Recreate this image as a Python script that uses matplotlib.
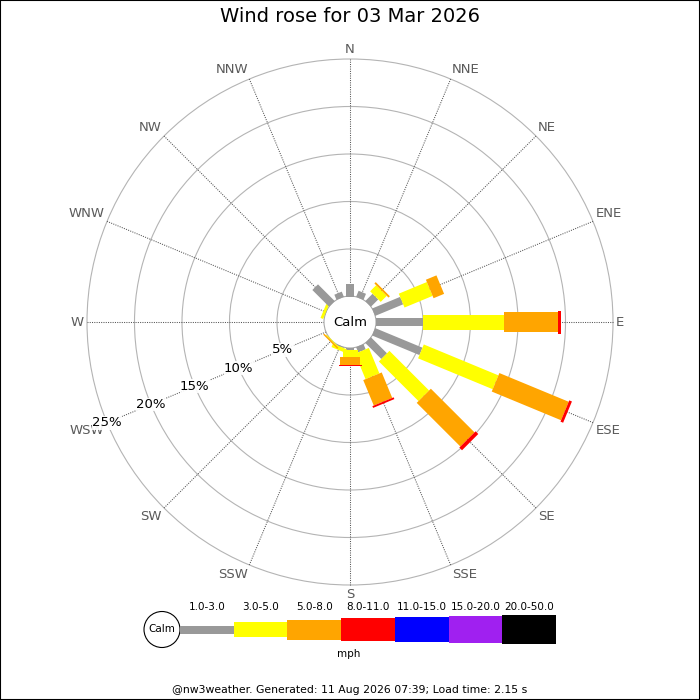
import numpy as np
import matplotlib
matplotlib.use("Agg")
import matplotlib.pyplot as plt
from matplotlib.patches import Circle, Polygon, Rectangle


# ── data ──────────────────────────────────────────────────────────────────────
DIRECTIONS = ["N", "NNE", "NE", "ENE", "E", "ESE", "SE", "SSE",
              "S", "SSW", "SW", "WSW", "W", "WNW", "NW", "NNW"]
SPEED_BINS = ["1.0-3.0", "3.0-5.0", "5.0-8.0", "8.0-11.0",
              "11.0-15.0", "15.0-20.0", "20.0-50.0"]

# percent of time per direction, one list per speed bin (N .. NNW)
pct_1_3 = [1.3, 0.7, 1.1, 3.2, 5.0, 5.4, 2.4, 0.6,
           0.3, 0.1, 0.0, 0.0, 0.0, 0.05, 2.5, 0.6]
pct_3_5 = [0.0, 0.0, 0.9, 3.2, 8.5, 8.5, 5.9, 2.9,
           0.7, 0.4, 0.1, 0.0, 0.0, 0.3, 0.0, 0.0]
pct_5_8 = [0.0, 0.0, 0.2, 1.2, 5.7, 7.9, 6.5, 2.9,
           0.8, 0.0, 0.15, 0.0, 0.0, 0.0, 0.0, 0.0]
pct_8_11 = [0.0, 0.0, 0.0, 0.0, 0.3, 0.3, 0.4, 0.2,
            0.1, 0.0, 0.0, 0.0, 0.0, 0.0, 0.0, 0.0]
pct_11_15 = [0.0] * 16
pct_15_20 = [0.0] * 16
pct_20_50 = [0.0] * 16

RING_PCTS = [5, 10, 15, 20, 25]

TITLE = "Wind rose for 03 Mar 2026"
FOOTER = "@nw3weather. Generated: 11 Aug 2026 07:39; Load time: 2.15 s"

# ── style ─────────────────────────────────────────────────────────────────────
BIN_COLORS = ["#999999", "#ffff00", "#ffa500", "#ff0000",
              "#0000ff", "#a020f0", "#000000"]
BAR_WIDTHS = [8, 15, 20, 23, 25, 27, 29]     # px
CALM_R = 26        # px
R0 = 25.5          # px radius of 0 %
PX_PER_PCT = 9.5


def rad(p):
    return R0 + PX_PER_PCT * p


def xy(r, deg):
    a = np.deg2rad(deg)
    return r * np.sin(a), r * np.cos(a)


def bar_poly(r1, r2, deg, width):
    a = np.deg2rad(deg)
    u = np.array([np.sin(a), np.cos(a)])
    t = np.array([np.cos(a), -np.sin(a)]) * width / 2
    return [u * r1 - t, u * r2 - t, u * r2 + t, u * r1 + t]


fig = plt.figure(figsize=(7, 7), dpi=100)
ax = fig.add_axes([0, 0, 1, 1])
ax.set_xlim(-350, 350)
ax.set_ylim(-378, 322)
ax.axis("off")

# ── grid ──────────────────────────────────────────────────────────────────────
for p in RING_PCTS:
    ax.add_patch(Circle((0, 0), rad(p), fill=False, ec="#b4b4b4", lw=0.8,
                        zorder=1))

r_out = rad(RING_PCTS[-1])
for i, name in enumerate(DIRECTIONS):
    deg = i * 22.5
    x1, y1 = xy(CALM_R, deg)
    x2, y2 = xy(r_out, deg)
    ax.plot([x1, x2], [y1, y2], color="#555555", ls=(0, (1, 1.2)), lw=0.75,
            zorder=1)
    s, c = np.sin(np.deg2rad(deg)), np.cos(np.deg2rad(deg))
    ha = "left" if s > 0.01 else ("right" if s < -0.01 else "center")
    va = "bottom" if c > 0.01 else ("top" if c < -0.01 else "center")
    lx, ly = xy(r_out + 3, deg)
    ax.text(lx, ly, name, ha=ha, va=va, fontsize=9.5, color="#5a5a5a",
            zorder=2)

# ── bars ──────────────────────────────────────────────────────────────────────
all_bins = [pct_1_3, pct_3_5, pct_5_8, pct_8_11, pct_11_15, pct_15_20, pct_20_50]
for i in range(len(DIRECTIONS)):
    deg = i * 22.5
    cum = 0.0
    for b, vals in enumerate(all_bins):
        v = vals[i]
        if v <= 0:
            continue
        poly = bar_poly(rad(cum), rad(cum + v), deg, BAR_WIDTHS[b])
        ax.add_patch(Polygon(poly, closed=True, fc=BIN_COLORS[b], ec="none",
                             zorder=4))
        cum += v

# calm circle
ax.add_patch(Circle((0, 0), CALM_R, fc="white", ec="#aaaaaa", lw=0.8,
                    zorder=3))
ax.text(0, 0, "Calm", ha="center", va="center", fontsize=9.5, zorder=5)

# percent labels along WSW
for p in RING_PCTS:
    lx, ly = xy(rad(p), 247.5)
    ax.text(lx, ly, f"{p}%", ha="center", va="center", fontsize=9.5,
            zorder=6,
            bbox=dict(fc="white", ec="none", pad=0.3, alpha=0.9))

# ── legend ────────────────────────────────────────────────────────────────────
leg_y = 322 - 629.5
leg_x0 = 180 - 350
seg_w = (556 - 180) / len(SPEED_BINS)
ax.add_patch(Circle((162 - 350, leg_y), 18, fc="white", ec="black", lw=0.8,
                    zorder=3))
ax.text(162 - 350, leg_y, "Calm", ha="center", va="center", fontsize=7.5)
for b, label in enumerate(SPEED_BINS):
    x = leg_x0 + b * seg_w
    h = BAR_WIDTHS[b]
    ax.add_patch(Rectangle((x, leg_y - h / 2), seg_w, h, fc=BIN_COLORS[b],
                           ec="none", zorder=3))
    ax.text(x + seg_w / 2, 322 - 607, label, ha="center", va="center",
            fontsize=7.5)
ax.text(349 - 350, 322 - 654, "mph", ha="center", va="center", fontsize=7.5)

fig.text(0.5, 1 - 17 / 700, TITLE, ha="center", va="center", fontsize=14)
fig.text(0.5, 1 - 690 / 700, FOOTER, ha="center", va="center", fontsize=7.8)

fig.patches.append(Rectangle((0, 0), 1, 1, transform=fig.transFigure,
                             fill=False, ec="black", lw=1.5))

plt.savefig("out.png", dpi=100)
plt.close()
